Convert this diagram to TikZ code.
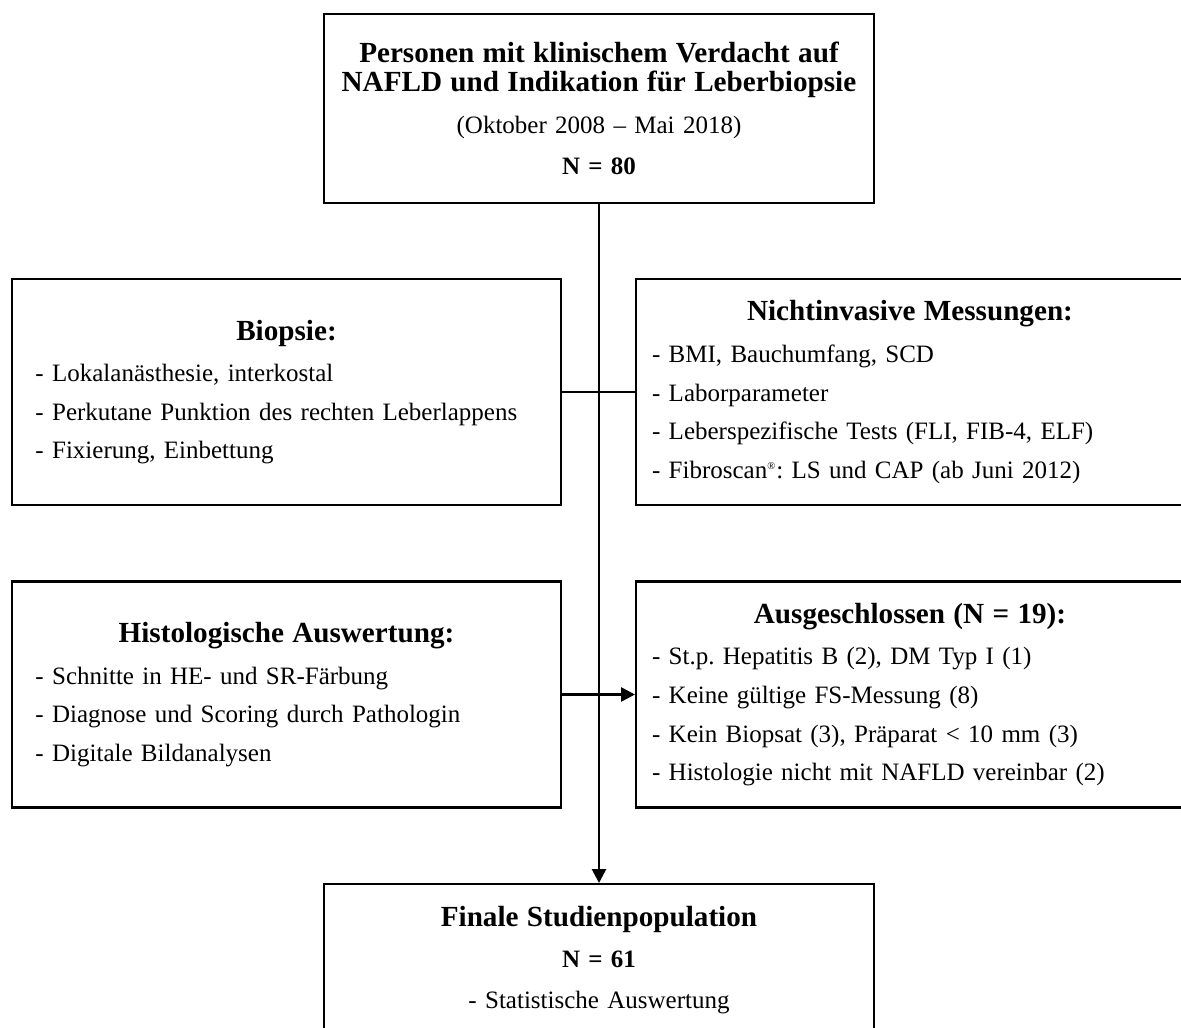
\documentclass[tikz,border=0pt]{standalone}
\usepackage{fontspec}
\setmainfont{Liberation Serif}
\usetikzlibrary{arrows.meta}
\setlength{\parindent}{0pt}
\frenchspacing
\newcommand{\flowhead}{\fontsize{14}{14}\selectfont\bfseries}
\tikzset{flowbox/.style={draw, line width=1pt, rectangle, inner ysep=0pt,
    font=\fontsize{12}{18.5}\selectfont},
    leftbox/.style={flowbox, text width=241pt, inner xsep=11.25pt,
    minimum height=108.5pt, align=left},
    rightbox/.style={flowbox, text width=247.6pt, inner xsep=7.7pt,
    minimum height=108.5pt, align=left},
    topbox/.style={flowbox, text width=262pt, inner xsep=1pt,
    minimum height=90.7pt, align=center, font=\fontsize{12}{20}\selectfont},
    finalbox/.style={flowbox, text width=240pt, inner xsep=12pt,
    minimum height=73pt, align=center, anchor=north, font=\fontsize{12}{19.5}\selectfont},
    flowline/.style={line width=1.3pt},
    flowarrow/.style={flowline, -{Triangle[length=6.7pt,width=6.7pt]}},
    }

\begin{document}
\begin{tikzpicture}[x=0.48pt, y=-0.48pt]
	\useasboundingbox (0,0) rectangle (1181,1028);
	% Start
	\node[topbox] (start) at (599,108.5) {{\flowhead Personen mit klinischem Verdacht auf\par
		NAFLD und Indikation für Leberbiopsie\par}
		(Oktober 2008 -- Mai 2018)\par
		\textbf{N = 80}};
	% Biopsie / Messungen
	\node[leftbox] (biopsie) at (286.5,392) {{\centering\flowhead Biopsie:\par}
		\vspace{1.5pt}- Lokalanästhesie, interkostal\par
		- Perkutane Punktion des rechten Leberlappens\par
		- Fixierung, Einbettung};
	\node[rightbox] (messung) at (910,392) {{\centering\flowhead Nichtinvasive Messungen:\par}
		\vspace{1.5pt}- BMI, Bauchumfang, SCD\par
		- Laborparameter\par
		- Leberspezifische Tests (FLI, FIB-4, ELF)\par
		- Fibroscan\textsuperscript{\tiny\textregistered}: LS und CAP (ab Juni 2012)};
	% Histologie / Ausschluss
	\node[leftbox] (histo) at (286.5,694.5) {{\centering\flowhead Histologische Auswertung:\par}
		\vspace{1.5pt}- Schnitte in HE- und SR-Färbung\par
		- Diagnose und Scoring durch Pathologin\par
		- Digitale Bildanalysen};
	\node[rightbox] (ausschluss) at (910,694.5) {{\centering\flowhead Ausgeschlossen (N = 19):\par}
		\vspace{1.5pt}- St.p. Hepatitis B (2), DM Typ I (1)\par
		- Keine gültige FS-Messung (8)\par
		- Kein Biopsat (3), Präparat < 10 mm (3)\par
		- Histologie nicht mit NAFLD vereinbar (2)};
	% Final
	\node[finalbox] (final) at (599,883) {{\flowhead Finale Studienpopulation\par}
		\textbf{N = 61}\par
		- Statistische Auswertung};

	\draw[flowarrow] (start.south) -- (final.north);
	\draw[flowline] (biopsie.east) -- (messung.west);
	\draw[flowarrow] (histo.east) -- (ausschluss.west);
\end{tikzpicture}
\end{document}
